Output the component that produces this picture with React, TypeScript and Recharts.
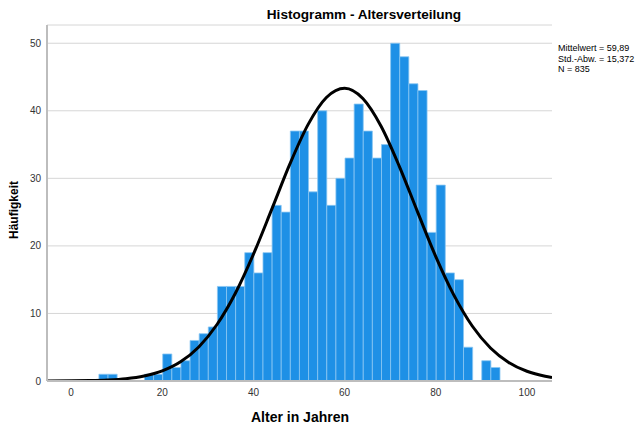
import React from "react";
import {
  ComposedChart,
  Bar,
  Line,
  XAxis,
  YAxis,
  CartesianGrid,
  Rectangle,
} from "recharts";

// Histogram bins: bin centre (age, years) and count
const binCenters = [
  7.1, 9.1, 11.1, 13.1, 15.1, 17.1, 19.1, 21.1, 23.1, 25.1, 27.1, 29.1, 31.1,
  33.1, 35.1, 37.1, 39.1, 41.1, 43.1, 45.1, 47.1, 49.1, 51.1, 53.1, 55.1, 57.1,
  59.1, 61.1, 63.1, 65.1, 67.1, 69.1, 71.1, 73.1, 75.1, 77.1, 79.1, 81.1, 83.1,
  85.1, 87.1, 89.1, 91.1, 93.1,
];
const binCounts = [
  1, 1, 0, 0, 0, 1, 1, 4, 2, 3, 6, 7, 8, 14, 14, 14, 19, 16, 19, 26, 25, 37, 37,
  28, 40, 26, 30, 33, 41, 37, 33, 35, 50, 48, 44, 43, 22, 29, 16, 15, 5, 0, 3, 2,
];
const binWidth = 2;

// Normal curve
const curveX = [
  -5.3, 0, 4, 8, 12, 16, 20, 24, 28, 32, 36, 40, 44, 48, 52, 56, 60, 64, 68, 72,
  76, 80, 84, 88, 92, 96, 100, 104, 105.5,
];
const curveY = [
  0.01, 0.02, 0.06, 0.15, 0.34, 0.74, 1.5, 2.84, 5.04, 8.36, 12.95, 18.77,
  25.4, 32.14, 37.99, 41.97, 43.34, 41.82, 37.71, 31.78, 25.03, 18.42, 12.67,
  8.14, 4.89, 2.75, 1.44, 0.71, 0.53,
];

const xTicks = [0, 20, 40, 60, 80, 100];
const yTicks = [0, 10, 20, 30, 40, 50];
const xDomain: [number, number] = [-5.3, 105.5];
const yDomain: [number, number] = [0, 52.7];

const title = "Histogramm - Altersverteilung";
const xLabel = "Alter in Jahren";
const yLabel = "Häufigkeit";
const statsLines = ["Mittelwert = 59,89", "Std.-Abw. = 15,372", "N = 835"];

const barData = binCenters.map((x, i) => ({ x, count: binCounts[i] }));
const curveData = curveX.map((x, i) => ({ x, curve: curveY[i] }));

const FONT = "'Liberation Sans', Arial, sans-serif";

const CHART_W = 643;
const CHART_H = 427;
const MARGIN = { top: 25, right: 91, bottom: 16, left: 0 };
const Y_AXIS_W = 47;
const plotWidth = CHART_W - MARGIN.left - MARGIN.right - Y_AXIS_W;
// pixel width of one histogram bin, derived from the x scale
const binPx = (binWidth / (xDomain[1] - xDomain[0])) * plotWidth;

const BinShape = (props: any) => {
  const { x, width, y, height } = props;
  if (!height) return null;
  const cx = x + width / 2;
  return (
    <Rectangle
      x={cx - binPx / 2}
      y={y}
      width={binPx}
      height={height}
      fill="#1e90e6"
      stroke="#8ac6f2"
      strokeWidth={0.8}
    />
  );
};

export default function App() {
  return (
    <div
      style={{
        position: "absolute",
        left: 0,
        top: 0,
        width: CHART_W,
        height: CHART_H,
        background: "#fff",
        fontFamily: FONT,
      }}
    >
      <ComposedChart
        width={CHART_W}
        height={CHART_H}
        data={barData}
        margin={MARGIN}
        barCategoryGap={0}
        barGap={0}
      >
        <CartesianGrid vertical={false} stroke="#d6d6d6" strokeWidth={1} />
        <XAxis
          dataKey="x"
          type="number"
          domain={xDomain}
          ticks={xTicks}
          allowDataOverflow
          height={30}
          tickLine={false}
          axisLine={{ stroke: "#bdbdbd", strokeWidth: 2 }}
          tick={{ fill: "#333", fontSize: 10, fontFamily: FONT }}
        />
        <YAxis
          type="number"
          domain={yDomain}
          ticks={yTicks}
          allowDataOverflow
          width={Y_AXIS_W}
          tickLine={false}
          tickSize={4}
          tickMargin={2}
          axisLine={{ stroke: "#bdbdbd", strokeWidth: 2 }}
          tick={{ fill: "#333", fontSize: 10, fontFamily: FONT }}
        />
        <Bar
          dataKey="count"
          fill="#1e90e6"
          shape={BinShape}
          isAnimationActive={false}
        />
        <Line
          data={curveData}
          dataKey="curve"
          type="monotone"
          stroke="#000"
          strokeWidth={3}
          dot={false}
          activeDot={false}
          isAnimationActive={false}
        />
      </ComposedChart>

      <div
        style={{
          position: "absolute",
          left: 230,
          width: 268,
          top: 7,
          textAlign: "center",
          fontWeight: "bold",
          fontSize: 13.6,
          color: "#000",
          whiteSpace: "nowrap",
        }}
      >
        {title}
      </div>
      <div
        style={{
          position: "absolute",
          left: 200,
          width: 200,
          top: 409,
          textAlign: "center",
          fontWeight: "bold",
          fontSize: 14,
          color: "#000",
          whiteSpace: "nowrap",
        }}
      >
        {xLabel}
      </div>
      <div
        style={{
          position: "absolute",
          left: 14,
          top: 210,
          transform: "translate(-50%, -50%) rotate(-90deg)",
          fontWeight: "bold",
          fontSize: 12,
          color: "#000",
          whiteSpace: "nowrap",
        }}
      >
        {yLabel}
      </div>
      <div
        style={{
          position: "absolute",
          left: 558,
          top: 43,
          fontSize: 9,
          lineHeight: "10.5px",
          color: "#000",
          whiteSpace: "nowrap",
        }}
      >
        {statsLines.map((s) => (
          <div key={s}>{s}</div>
        ))}
      </div>
    </div>
  );
}
